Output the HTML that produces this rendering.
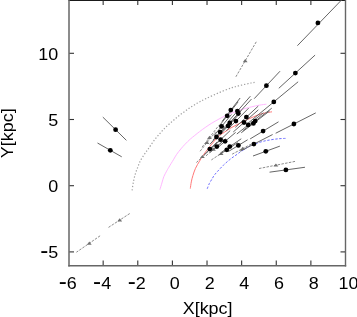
<!DOCTYPE html>
<html><head><meta charset="utf-8"><style>
html,body{margin:0;padding:0;background:#fff;}
svg{display:block;font-family:"Liberation Sans",Arial,sans-serif;}
</style></head><body>
<svg width="357" height="317" viewBox="0 0 357 317">
<line x1="68.5" y1="0.3" x2="345.9" y2="0.3" stroke="#1a1a1a" stroke-width="1.5"/>
<line x1="69.0" y1="0" x2="69.0" y2="266.6" stroke="#666" stroke-width="1.5"/>
<line x1="345.5" y1="0" x2="345.5" y2="266.6" stroke="#666" stroke-width="1.4"/>
<line x1="68.3" y1="265.8" x2="346.2" y2="265.8" stroke="#666" stroke-width="1.6"/>
<line x1="103.16" y1="265" x2="103.16" y2="260.5" stroke="#333" stroke-width="1.1"/>
<line x1="103.16" y1="0.5" x2="103.16" y2="5.0" stroke="#333" stroke-width="1.1"/>
<line x1="137.78" y1="265" x2="137.78" y2="260.5" stroke="#333" stroke-width="1.1"/>
<line x1="137.78" y1="0.5" x2="137.78" y2="5.0" stroke="#333" stroke-width="1.1"/>
<line x1="172.40" y1="265" x2="172.40" y2="260.5" stroke="#333" stroke-width="1.1"/>
<line x1="172.40" y1="0.5" x2="172.40" y2="5.0" stroke="#333" stroke-width="1.1"/>
<line x1="207.02" y1="265" x2="207.02" y2="260.5" stroke="#333" stroke-width="1.1"/>
<line x1="207.02" y1="0.5" x2="207.02" y2="5.0" stroke="#333" stroke-width="1.1"/>
<line x1="241.64" y1="265" x2="241.64" y2="260.5" stroke="#333" stroke-width="1.1"/>
<line x1="241.64" y1="0.5" x2="241.64" y2="5.0" stroke="#333" stroke-width="1.1"/>
<line x1="276.26" y1="265" x2="276.26" y2="260.5" stroke="#333" stroke-width="1.1"/>
<line x1="276.26" y1="0.5" x2="276.26" y2="5.0" stroke="#333" stroke-width="1.1"/>
<line x1="310.88" y1="265" x2="310.88" y2="260.5" stroke="#333" stroke-width="1.1"/>
<line x1="310.88" y1="0.5" x2="310.88" y2="5.0" stroke="#333" stroke-width="1.1"/>
<line x1="69.5" y1="251.90" x2="74.0" y2="251.90" stroke="#333" stroke-width="1.1"/>
<line x1="345" y1="251.90" x2="340.5" y2="251.90" stroke="#333" stroke-width="1.1"/>
<line x1="69.5" y1="185.70" x2="74.0" y2="185.70" stroke="#333" stroke-width="1.1"/>
<line x1="345" y1="185.70" x2="340.5" y2="185.70" stroke="#333" stroke-width="1.1"/>
<line x1="69.5" y1="119.50" x2="74.0" y2="119.50" stroke="#333" stroke-width="1.1"/>
<line x1="345" y1="119.50" x2="340.5" y2="119.50" stroke="#333" stroke-width="1.1"/>
<line x1="69.5" y1="53.30" x2="74.0" y2="53.30" stroke="#333" stroke-width="1.1"/>
<line x1="345" y1="53.30" x2="340.5" y2="53.30" stroke="#333" stroke-width="1.1"/>
<defs><clipPath id="c"><rect x="69" y="0" width="276.5" height="265.5"/></clipPath></defs>
<g clip-path="url(#c)"><path d="M132.10,190.30 C132.25,189.28 132.65,186.23 133.00,184.20 C133.35,182.17 133.72,180.12 134.20,178.10 C134.68,176.08 135.28,173.97 135.90,172.10 C136.52,170.23 137.23,168.63 137.90,166.90 C138.57,165.17 139.13,163.30 139.90,161.70 C140.67,160.10 141.55,158.82 142.50,157.30 C143.45,155.78 144.67,153.95 145.60,152.60 C146.53,151.25 147.10,150.65 148.10,149.20 C149.10,147.75 150.37,145.65 151.60,143.90 C152.83,142.15 154.17,140.38 155.50,138.70 C156.83,137.02 158.22,135.40 159.60,133.80 C160.98,132.20 162.33,130.62 163.80,129.10 C165.27,127.58 166.78,126.17 168.40,124.70 C170.02,123.23 171.88,121.70 173.50,120.30 C175.12,118.90 176.47,117.60 178.10,116.30 C179.73,115.00 181.53,113.80 183.30,112.50 C185.07,111.20 186.95,109.70 188.70,108.50 C190.45,107.30 192.00,106.40 193.80,105.30 C195.60,104.20 197.57,102.97 199.50,101.90 C201.43,100.83 202.98,100.07 205.40,98.90 C207.82,97.73 211.07,96.22 214.00,94.90 C216.93,93.58 219.97,92.22 223.00,91.00 C226.03,89.78 229.63,88.45 232.20,87.60 C234.77,86.75 236.27,86.45 238.40,85.90 C240.53,85.35 242.87,84.78 245.00,84.30 C247.13,83.82 249.60,83.32 251.20,83.00 C252.80,82.68 254.03,82.50 254.60,82.40" fill="none" stroke="#a0a0a0" stroke-width="1.2" stroke-dasharray="1.3 1.9"/><path d="M159.90,189.70 C160.23,188.58 161.25,185.17 161.90,183.00 C162.55,180.83 163.02,178.67 163.80,176.70 C164.58,174.73 165.77,172.77 166.60,171.20 C167.43,169.63 167.67,169.20 168.80,167.30 C169.93,165.40 172.08,161.97 173.40,159.80 C174.72,157.63 175.45,156.12 176.70,154.30 C177.95,152.48 179.50,150.58 180.90,148.90 C182.30,147.22 183.55,145.82 185.10,144.20 C186.65,142.58 188.58,140.67 190.20,139.20 C191.82,137.73 193.23,136.67 194.80,135.40 C196.37,134.13 197.87,132.92 199.60,131.60 C201.33,130.28 203.27,128.85 205.20,127.50 C207.13,126.15 208.90,124.92 211.20,123.50 C213.50,122.08 216.77,120.22 219.00,119.00 C221.23,117.78 222.53,117.17 224.60,116.20 C226.67,115.23 229.07,114.13 231.40,113.20 C233.73,112.27 236.33,111.38 238.60,110.60 C240.87,109.82 242.80,109.13 245.00,108.50 C247.20,107.87 249.37,107.37 251.80,106.80 C254.23,106.23 257.17,105.53 259.60,105.10 C262.03,104.67 265.27,104.35 266.40,104.20" fill="none" stroke="#ffb8ff" stroke-width="1"/><path d="M190.30,188.60 C190.47,187.48 190.87,184.07 191.30,181.90 C191.73,179.73 192.20,177.87 192.90,175.60 C193.60,173.33 194.40,170.70 195.50,168.30 C196.60,165.90 198.23,163.37 199.50,161.20 C200.77,159.03 201.67,157.38 203.10,155.30 C204.53,153.22 206.25,151.07 208.10,148.70 C209.95,146.33 212.30,143.28 214.20,141.10 C216.10,138.92 217.75,137.12 219.50,135.60 C221.25,134.08 222.93,133.20 224.70,132.00 C226.47,130.80 228.22,129.53 230.10,128.40 C231.98,127.27 234.18,126.15 236.00,125.20 C237.82,124.25 239.47,123.47 241.00,122.70 C242.53,121.93 243.70,121.32 245.20,120.60 C246.70,119.88 247.97,119.30 250.00,118.40 C252.03,117.50 255.07,116.07 257.40,115.20 C259.73,114.33 261.57,113.77 264.00,113.20 C266.43,112.63 270.67,112.03 272.00,111.80" fill="none" stroke="#ff7878" stroke-width="1"/><path d="M207.20,188.80 C207.55,187.93 208.55,185.15 209.30,183.60 C210.05,182.05 210.82,180.97 211.70,179.50 C212.58,178.03 213.35,176.45 214.60,174.80 C215.85,173.15 217.73,171.20 219.20,169.60 C220.67,168.00 222.00,166.57 223.40,165.20 C224.80,163.83 226.20,162.60 227.60,161.40 C229.00,160.20 230.40,159.05 231.80,158.00 C233.20,156.95 234.62,156.10 236.00,155.10 C237.38,154.10 238.80,152.88 240.10,152.00 C241.40,151.12 242.42,150.67 243.80,149.80 C245.18,148.93 246.70,147.72 248.40,146.80 C250.10,145.88 251.67,145.18 254.00,144.30 C256.33,143.42 259.60,142.25 262.40,141.50 C265.20,140.75 268.00,140.27 270.80,139.80 C273.60,139.33 276.75,138.93 279.20,138.70 C281.65,138.47 284.45,138.45 285.50,138.40" fill="none" stroke="#7070ff" stroke-width="1" stroke-dasharray="2.4 1.6"/><line x1="235.88" y1="76.79" x2="256.27" y2="41.82" stroke="#8c8c8c" stroke-width="1" stroke-dasharray="2.5 1.3"/><line x1="100.10" y1="235.81" x2="76.42" y2="252.23" stroke="#8c8c8c" stroke-width="1" stroke-dasharray="2.5 1.3"/><line x1="129.71" y1="213.56" x2="107.58" y2="228.01" stroke="#8c8c8c" stroke-width="1" stroke-dasharray="2.5 1.3"/><line x1="259.03" y1="168.54" x2="295.56" y2="161.30" stroke="#8c8c8c" stroke-width="1" stroke-dasharray="2.5 1.3"/><line x1="232.15" y1="154.16" x2="253.24" y2="143.03" stroke="#8c8c8c" stroke-width="1" stroke-dasharray="2.5 1.3"/><line x1="202.08" y1="147.14" x2="218.78" y2="125.45" stroke="#8c8c8c" stroke-width="1" stroke-dasharray="2.5 1.3"/><line x1="200.08" y1="151.22" x2="215.65" y2="131.82" stroke="#8c8c8c" stroke-width="1" stroke-dasharray="2.5 1.3"/><line x1="203.60" y1="155.86" x2="221.15" y2="139.08" stroke="#8c8c8c" stroke-width="1" stroke-dasharray="2.5 1.3"/><line x1="196.40" y1="162.50" x2="209.90" y2="149.45" stroke="#8c8c8c" stroke-width="1" stroke-dasharray="2.5 1.3"/><line x1="211.36" y1="159.94" x2="230.84" y2="147.06" stroke="#8c8c8c" stroke-width="1" stroke-dasharray="2.5 1.3"/><line x1="206.02" y1="155.85" x2="221.60" y2="142.02" stroke="#8c8c8c" stroke-width="1" stroke-dasharray="2.5 1.3"/><path d="M245.20,59.00 L247.60,62.20 L242.80,62.20Z" fill="#707070"/><path d="M89.30,241.50 L91.70,244.70 L86.90,244.70Z" fill="#707070"/><path d="M119.70,218.30 L122.10,221.50 L117.30,221.50Z" fill="#707070"/><path d="M275.90,163.40 L278.30,166.60 L273.50,166.60Z" fill="#707070"/><path d="M242.70,146.80 L245.10,150.00 L240.30,150.00Z" fill="#707070"/><path d="M209.50,135.70 L211.90,138.90 L207.10,138.90Z" fill="#707070"/><path d="M207.00,140.80 L209.40,144.00 L204.60,144.00Z" fill="#707070"/><path d="M211.40,146.60 L213.80,149.80 L209.00,149.80Z" fill="#707070"/><path d="M202.40,154.90 L204.80,158.10 L200.00,158.10Z" fill="#707070"/><path d="M221.10,151.70 L223.50,154.90 L218.70,154.90Z" fill="#707070"/><path d="M213.40,147.50 L215.80,150.70 L211.00,150.70Z" fill="#707070"/><line x1="297.40" y1="45.70" x2="342.00" y2="-0.50" stroke="#666" stroke-width="1.0"/><line x1="254.18" y1="98.70" x2="280.03" y2="71.20" stroke="#666" stroke-width="1.0"/><line x1="278.79" y1="88.30" x2="315.08" y2="55.08" stroke="#666" stroke-width="1.0"/><line x1="248.45" y1="122.85" x2="298.14" y2="81.79" stroke="#666" stroke-width="1.0"/><line x1="275.67" y1="133.25" x2="315.77" y2="112.89" stroke="#666" stroke-width="1.0"/><line x1="126.39" y1="140.34" x2="102.82" y2="117.10" stroke="#666" stroke-width="1.0"/><line x1="121.73" y1="156.81" x2="97.51" y2="143.01" stroke="#666" stroke-width="1.0"/><line x1="250.13" y1="138.91" x2="278.52" y2="121.82" stroke="#666" stroke-width="1.0"/><line x1="240.05" y1="151.17" x2="272.64" y2="134.53" stroke="#666" stroke-width="1.0"/><line x1="253.00" y1="156.01" x2="279.90" y2="146.11" stroke="#666" stroke-width="1.0"/><line x1="269.56" y1="172.18" x2="304.97" y2="167.25" stroke="#666" stroke-width="1.0"/><line x1="222.04" y1="121.44" x2="240.14" y2="98.00" stroke="#666" stroke-width="1.0"/><line x1="227.65" y1="122.29" x2="250.40" y2="96.18" stroke="#666" stroke-width="1.0"/><line x1="228.42" y1="124.33" x2="251.48" y2="99.06" stroke="#666" stroke-width="1.0"/><line x1="218.98" y1="126.28" x2="238.16" y2="101.82" stroke="#666" stroke-width="1.0"/><line x1="235.30" y1="127.39" x2="258.24" y2="106.12" stroke="#666" stroke-width="1.0"/><line x1="226.38" y1="130.79" x2="248.60" y2="108.18" stroke="#666" stroke-width="1.0"/><line x1="233.26" y1="131.98" x2="258.32" y2="109.86" stroke="#666" stroke-width="1.0"/><line x1="236.83" y1="134.02" x2="263.36" y2="112.74" stroke="#666" stroke-width="1.0"/><line x1="241.25" y1="132.75" x2="269.60" y2="110.94" stroke="#666" stroke-width="1.0"/><line x1="242.78" y1="130.79" x2="271.76" y2="108.18" stroke="#666" stroke-width="1.0"/><line x1="221.19" y1="132.41" x2="241.28" y2="110.46" stroke="#666" stroke-width="1.0"/><line x1="219.83" y1="134.87" x2="239.36" y2="113.94" stroke="#666" stroke-width="1.0"/><line x1="214.22" y1="135.30" x2="231.44" y2="114.54" stroke="#666" stroke-width="1.0"/><line x1="212.94" y1="140.14" x2="229.64" y2="121.38" stroke="#666" stroke-width="1.0"/><line x1="209.88" y1="144.31" x2="225.32" y2="127.26" stroke="#666" stroke-width="1.0"/><line x1="213.37" y1="146.60" x2="230.24" y2="130.50" stroke="#666" stroke-width="1.0"/><line x1="217.19" y1="147.96" x2="235.64" y2="132.42" stroke="#666" stroke-width="1.0"/><line x1="210.14" y1="152.47" x2="225.68" y2="138.78" stroke="#666" stroke-width="1.0"/><line x1="221.19" y1="152.47" x2="241.28" y2="138.78" stroke="#666" stroke-width="1.0"/><line x1="218.64" y1="155.19" x2="237.68" y2="142.62" stroke="#666" stroke-width="1.0"/><line x1="228.50" y1="151.44" x2="247.64" y2="139.76" stroke="#666" stroke-width="1.0"/><line x1="204.19" y1="154.59" x2="217.28" y2="141.78" stroke="#666" stroke-width="1.0"/><circle cx="317.90" cy="22.90" r="2.4" fill="#000"/><circle cx="266.40" cy="85.70" r="2.4" fill="#000"/><circle cx="295.40" cy="73.10" r="2.4" fill="#000"/><circle cx="273.80" cy="101.90" r="2.4" fill="#000"/><circle cx="293.90" cy="124.00" r="2.4" fill="#000"/><circle cx="115.60" cy="129.70" r="2.4" fill="#000"/><circle cx="110.30" cy="150.30" r="2.4" fill="#000"/><circle cx="263.10" cy="131.10" r="2.4" fill="#000"/><circle cx="253.90" cy="144.10" r="2.4" fill="#000"/><circle cx="265.80" cy="151.30" r="2.4" fill="#000"/><circle cx="285.90" cy="169.90" r="2.4" fill="#000"/><circle cx="230.80" cy="110.10" r="2.4" fill="#000"/><circle cx="237.40" cy="111.10" r="2.4" fill="#000"/><circle cx="238.30" cy="113.50" r="2.4" fill="#000"/><circle cx="227.20" cy="115.80" r="2.4" fill="#000"/><circle cx="246.40" cy="117.10" r="2.4" fill="#000"/><circle cx="235.90" cy="121.10" r="2.4" fill="#000"/><circle cx="244.00" cy="122.50" r="2.4" fill="#000"/><circle cx="248.20" cy="124.90" r="2.4" fill="#000"/><circle cx="253.40" cy="123.40" r="2.4" fill="#000"/><circle cx="255.20" cy="121.10" r="2.4" fill="#000"/><circle cx="229.80" cy="123.00" r="2.4" fill="#000"/><circle cx="228.20" cy="125.90" r="2.4" fill="#000"/><circle cx="221.60" cy="126.40" r="2.4" fill="#000"/><circle cx="220.10" cy="132.10" r="2.4" fill="#000"/><circle cx="216.50" cy="137.00" r="2.4" fill="#000"/><circle cx="220.60" cy="139.70" r="2.4" fill="#000"/><circle cx="225.10" cy="141.30" r="2.4" fill="#000"/><circle cx="216.80" cy="146.60" r="2.4" fill="#000"/><circle cx="229.80" cy="146.60" r="2.4" fill="#000"/><circle cx="226.80" cy="149.80" r="2.4" fill="#000"/><circle cx="238.40" cy="145.40" r="2.4" fill="#000"/><circle cx="209.80" cy="149.10" r="2.4" fill="#000"/></g>
<text transform="translate(67.70,288.90) scale(1.055,1)" text-anchor="middle" font-size="17"><tspan font-size="23" dy="-0.3">-</tspan><tspan dy="0.3">6</tspan></text>
<text transform="translate(102.10,288.90) scale(1.055,1)" text-anchor="middle" font-size="17"><tspan font-size="23" dy="-0.3">-</tspan><tspan dy="0.3">4</tspan></text>
<text transform="translate(136.70,288.90) scale(1.055,1)" text-anchor="middle" font-size="17"><tspan font-size="23" dy="-0.3">-</tspan><tspan dy="0.3">2</tspan></text>
<text transform="translate(174.80,288.90) scale(1.055,1)" text-anchor="middle" font-size="17">0</text>
<text transform="translate(209.70,288.90) scale(1.055,1)" text-anchor="middle" font-size="17">2</text>
<text transform="translate(244.30,288.90) scale(1.055,1)" text-anchor="middle" font-size="17">4</text>
<text transform="translate(279.00,288.90) scale(1.055,1)" text-anchor="middle" font-size="17">6</text>
<text transform="translate(313.70,288.90) scale(1.055,1)" text-anchor="middle" font-size="17">8</text>
<text transform="translate(348.40,288.90) scale(1.055,1)" text-anchor="middle" font-size="17">10</text>
<text transform="translate(58.20,258.10) scale(1.055,1)" text-anchor="end" font-size="17"><tspan font-size="23" dy="-0.3">-</tspan><tspan dy="0.3">5</tspan></text>
<text transform="translate(58.20,191.90) scale(1.055,1)" text-anchor="end" font-size="17">0</text>
<text transform="translate(58.20,125.70) scale(1.055,1)" text-anchor="end" font-size="17">5</text>
<text transform="translate(58.20,59.50) scale(1.055,1)" text-anchor="end" font-size="17">10</text>
<text transform="translate(207.60,313.50) scale(1.055,1)" text-anchor="middle" font-size="17">X[kpc]</text>
<text transform="translate(13.2,133.3) rotate(-90) scale(1.055,1)" text-anchor="middle" font-size="17">Y[kpc]</text>
</svg>
</body></html>
